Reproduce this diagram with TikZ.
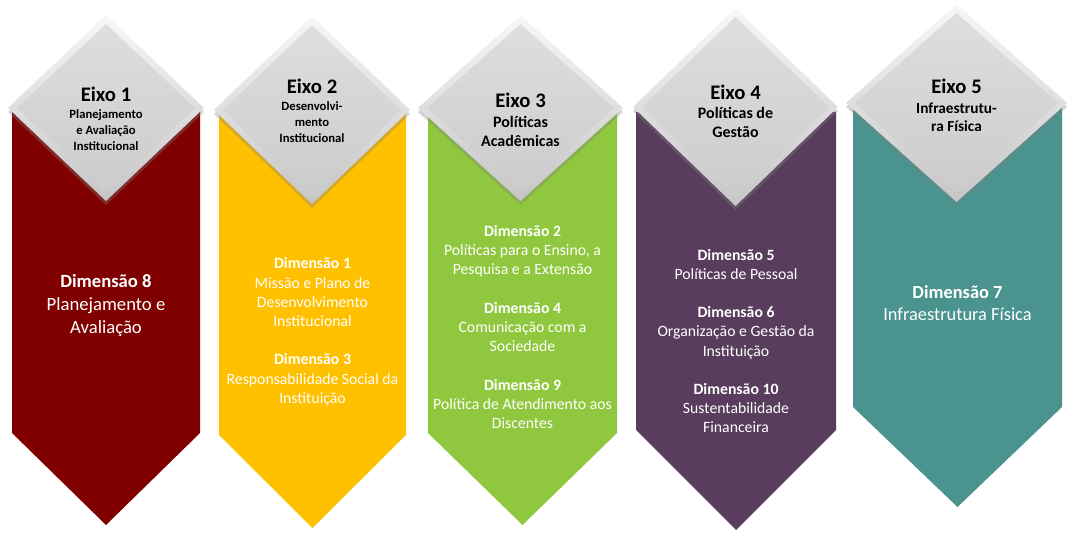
\documentclass[tikz,border=0pt]{standalone}
\usepackage{fontspec}
\setmainfont{Carlito}
\usetikzlibrary{shadows}
\definecolor{eixoum}{RGB}{128,0,0}
\definecolor{eixodois}{RGB}{255,192,0}
\definecolor{eixotres}{RGB}{143,200,62}
\definecolor{eixoquatro}{RGB}{88,61,92}
\definecolor{eixocinco}{RGB}{74,147,143}
\definecolor{cinzamiolo}{RGB}{214,214,214}
\begin{document}
\begin{tikzpicture}[x=0.75pt,y=-0.75pt]
\tikzstyle{every node}+=[inner sep=0pt]
\tikzstyle{losango}=[top color=gray!6, bottom color=gray!45, drop shadow={shadow xshift=0pt, shadow yshift=-3pt, opacity=0.35}]
\tikzstyle{miolo}=[top color=cinzamiolo!80!white, bottom color=cinzamiolo!95!black]
\tikzstyle{titulo}=[font=\fontsize{15.5}{18}\selectfont\bfseries]
\tikzstyle{temapeq}=[align=center, font=\fontsize{9.5}{12}\selectfont\bfseries]
\tikzstyle{temagr}=[align=center, font=\fontsize{12}{14.3}\selectfont\bfseries]
\tikzstyle{dimgr}=[text=white, align=center, font=\fontsize{14}{16.9}\selectfont]
\tikzstyle{dimpeq}=[text=white, align=center, font=\fontsize{11.8}{14.4}\selectfont]
\useasboundingbox (0,0) rectangle (1075,541);
% colunas
\fill [eixoum] (12,112) -- (200,112) -- (200,433) -- (106,525) -- (12,433) -- cycle;
\fill [eixodois] (219,112) -- (406,112) -- (406,435) -- (312.5,528) -- (219,435) -- cycle;
\fill [eixotres] (428,112) -- (617,112) -- (617,433) -- (522.5,525) -- (428,433) -- cycle;
\fill [eixoquatro] (636,112) -- (836,112) -- (836,430) -- (736,530) -- (636,430) -- cycle;
\fill [eixocinco] (853,108) -- (1062,108) -- (1062,407) -- (957.5,507) -- (853,407) -- cycle;
% losangos
\path [losango] (106,15) -- (204,108) -- (106,201) -- (8,108) -- cycle;
\path [miolo] (106,24) -- (195,108) -- (106,192) -- (17,108) -- cycle;
\path [losango] (312,16) -- (410,110) -- (312,204) -- (214,110) -- cycle;
\path [miolo] (312,25) -- (401,110) -- (312,195) -- (223,110) -- cycle;
\path [losango] (520.5,15) -- (623,108) -- (520.5,201) -- (418,108) -- cycle;
\path [miolo] (520.5,24) -- (614,108) -- (520.5,192) -- (427,108) -- cycle;
\path [losango] (735.5,8) -- (838,107) -- (735.5,206) -- (633,107) -- cycle;
\path [miolo] (735.5,17) -- (829,107) -- (735.5,197) -- (642,107) -- cycle;
\path [losango] (956.5,4) -- (1067,103) -- (956.5,202) -- (846,103) -- cycle;
\path [miolo] (956.5,13) -- (1058,103) -- (956.5,193) -- (855,103) -- cycle;
% eixos
\node [titulo] (eixo1) at (106,94) {Eixo 1};
\node [temapeq] (tema1) at (106,130) {Planejamento\\e Avaliação\\Institucional};
\node [titulo] (eixo2) at (312,86) {Eixo 2};
\node [temapeq] (tema2) at (312,122) {Desenvolvi-\\mento\\Institucional};
\node [titulo] (eixo3) at (520.5,100) {Eixo 3};
\node [temagr] (tema3) at (520.5,131.5) {Políticas\\Acadêmicas};
\node [titulo] (eixo4) at (735.5,92) {Eixo 4};
\node [temagr] (tema4) at (735.5,122.5) {Políticas de\\Gestão};
\node [titulo] (eixo5) at (956.5,86) {Eixo 5};
\node [temagr, font=\fontsize{11.5}{13.5}\selectfont\bfseries] (tema5) at (956.5,117) {Infraestrutu-\\ra Física};
% dimensoes
\node [dimgr] (dim1) at (106,305.5) {\textbf{Dimensão 8}\\Planejamento e\\Avaliação};
\node [dimpeq] (dim2) at (312.5,332) {\textbf{Dimensão 1}\\Missão e Plano de\\Desenvolvimento\\Institucional\\[14.4pt]\textbf{Dimensão 3}\\Responsabilidade Social da\\Instituição};
\node [dimpeq] (dim3) at (522.5,327) {\textbf{Dimensão 2}\\Políticas para o Ensino, a\\Pesquisa e a Extensão\\[14.4pt]\textbf{Dimensão 4}\\Comunicação com a\\Sociedade\\[14.4pt]\textbf{Dimensão 9}\\Política de Atendimento aos\\Discentes};
\node [dimpeq] (dim4) at (736,341) {\textbf{Dimensão 5}\\Políticas de Pessoal\\[14.4pt]\textbf{Dimensão 6}\\Organização e Gestão da\\Instituição\\[14.4pt]\textbf{Dimensão 10}\\Sustentabilidade\\Financeira};
\node [dimgr, font=\fontsize{13.8}{16.3}\selectfont] (dim5) at (957.5,303) {\textbf{Dimensão 7}\\Infraestrutura Física};
\end{tikzpicture}
\end{document}
